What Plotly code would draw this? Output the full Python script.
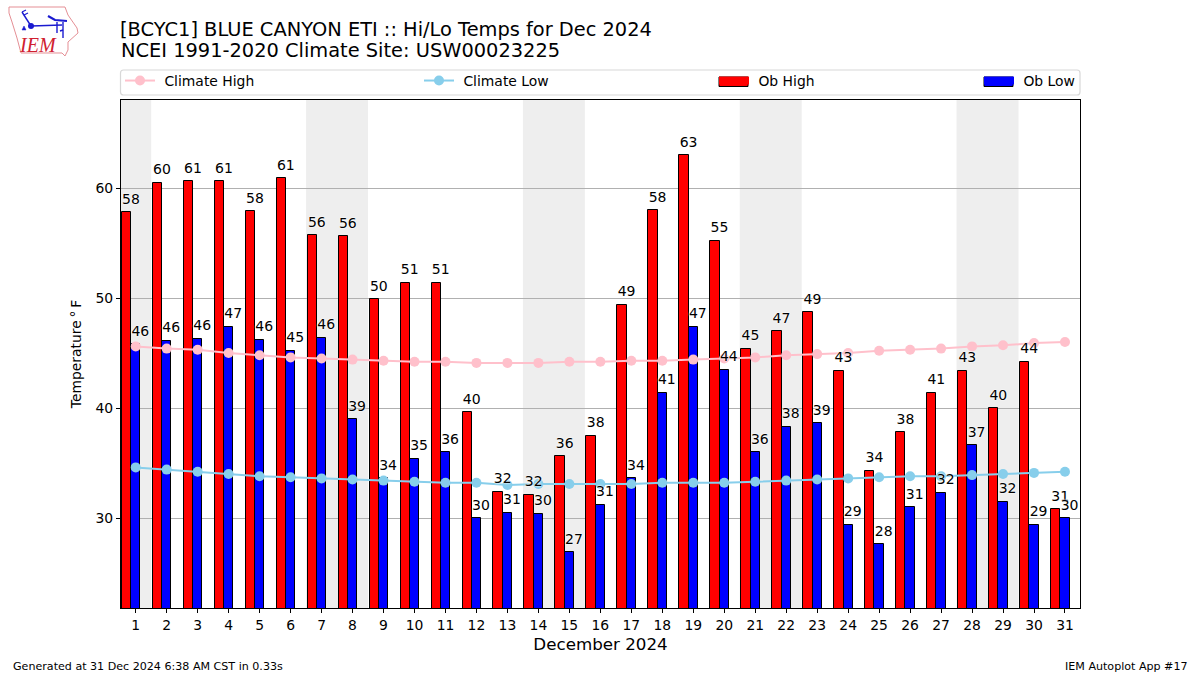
import plotly.graph_objects as go

days = list(range(1, 32))
ob_high = [57.8, 60.5, 60.6, 60.6, 57.9, 60.9, 55.7, 55.6, 49.9, 51.4, 51.4, 39.6, 32.4, 32.1, 35.6, 37.5,
           49.4, 58.0, 63.0, 55.2, 45.4, 47.0, 48.7, 43.4, 34.3, 37.8, 41.4, 43.4, 40.0, 44.2, 30.8]
ob_low = [45.8, 46.1, 46.3, 47.4, 46.2, 45.2, 46.4, 39.0, 33.6, 35.4, 36.0, 30.0, 30.5, 30.4, 26.9, 31.2,
          33.6, 41.4, 47.4, 43.5, 36.0, 38.3, 38.6, 29.4, 27.6, 31.0, 32.3, 36.6, 31.5, 29.4, 30.0]
high_labels = [58, 60, 61, 61, 58, 61, 56, 56, 50, 51, 51, 40, 32, 32, 36, 38,
               49, 58, 63, 55, 45, 47, 49, 43, 34, 38, 41, 43, 40, 44, 31]
low_labels = [46, 46, 46, 47, 46, 45, 46, 39, 34, 35, 36, 30, 31, 30, 27, 31,
              34, 41, 47, 44, 36, 38, 39, 29, 28, 31, 32, 37, 32, 29, 30]
climate_high = [45.6, 45.4, 45.3, 45.0, 44.8, 44.6, 44.5, 44.4, 44.3, 44.2, 44.2, 44.1, 44.1, 44.1, 44.2, 44.2,
                44.3, 44.3, 44.4, 44.5, 44.6, 44.8, 44.9, 45.0, 45.2, 45.3, 45.4, 45.6, 45.7, 45.9, 46.0]
climate_low = [34.6, 34.4, 34.2, 34.0, 33.8, 33.7, 33.6, 33.5, 33.4, 33.3, 33.2, 33.2, 33.0, 33.1, 33.1, 33.1,
               33.1, 33.2, 33.2, 33.2, 33.3, 33.4, 33.5, 33.6, 33.7, 33.8, 33.8, 33.9, 34.0, 34.1, 34.2]
weekend_spans = [(0.5, 1.5), (6.5, 8.5), (13.5, 15.5), (20.5, 22.5), (27.5, 29.5)]
y_ticks = [30, 40, 50, 60]

FONT = "DejaVu Sans"
L, R, T, B = 121, 1080, 100, 608
LABEL_LIFT = 0.45


def px(x):
    return (x - L) / (R - L)


def py(y):
    return (B - y) / (B - T)


def path(points, close=False):
    s = "M " + " L ".join(f"{px(a):.5f},{py(b):.5f}" for a, b in points)
    return s + (" Z" if close else "")


fig = go.Figure()
fig.add_bar(x=days, y=ob_high, width=0.3, offset=-0.45, name="Ob High bars", marker=dict(color="red", line=dict(color="black", width=1)), showlegend=False)
fig.add_bar(x=days, y=ob_low, width=0.3, offset=-0.15, name="Ob Low bars", marker=dict(color="blue", line=dict(color="black", width=1)), showlegend=False)
fig.add_scatter(x=days, y=climate_high, mode="lines+markers", name="\u00a0Climate High", line=dict(color="pink", width=2), marker=dict(color="pink", size=10), legend="legend")
fig.add_scatter(x=days, y=climate_low, mode="lines+markers", name="\u00a0Climate Low", line=dict(color="skyblue", width=2), marker=dict(color="skyblue", size=10), legend="legend2")
# legend-only entries: a thick line gives the wide, flat swatch of the reference
fig.add_scatter(x=[None], y=[None], mode="lines", name="\u00a0Ob High", line=dict(color="red", width=8), legend="legend3")
fig.add_scatter(x=[None], y=[None], mode="lines", name="\u00a0Ob Low", line=dict(color="blue", width=8), legend="legend4")
label_font = dict(family=FONT, size=14, color="black", shadow="0px 0px 2px white, 0px 0px 2px white")
fig.add_scatter(x=[d - 0.44 for d in days], y=[v + LABEL_LIFT for v in ob_high], mode="text", text=[str(v) for v in high_labels], textposition="top right", textfont=label_font, showlegend=False, hoverinfo="skip", cliponaxis=False)
fig.add_scatter(x=[d - 0.14 for d in days], y=[v + LABEL_LIFT for v in ob_low], mode="text", text=[str(v) for v in low_labels], textposition="top right", textfont=label_font, showlegend=False, hoverinfo="skip", cliponaxis=False)

shapes = [dict(type="rect", xref="x", yref="paper", x0=a, x1=b, y0=0, y1=1, fillcolor="#eeeeee", line=dict(width=0), layer="below") for a, b in weekend_spans]


def rounded(x0, y0, x1, y1, r):
    X, Y = px, py
    return (f"M {X(x0+r):.5f},{Y(y0):.5f} L {X(x1-r):.5f},{Y(y0):.5f} Q {X(x1):.5f},{Y(y0):.5f} {X(x1):.5f},{Y(y0+r):.5f} "
            f"L {X(x1):.5f},{Y(y1-r):.5f} Q {X(x1):.5f},{Y(y1):.5f} {X(x1-r):.5f},{Y(y1):.5f} "
            f"L {X(x0+r):.5f},{Y(y1):.5f} Q {X(x0):.5f},{Y(y1):.5f} {X(x0):.5f},{Y(y1-r):.5f} "
            f"L {X(x0):.5f},{Y(y0+r):.5f} Q {X(x0):.5f},{Y(y0):.5f} {X(x0+r):.5f},{Y(y0):.5f} Z")


shapes.append(dict(type="path", xref="paper", yref="paper", path=rounded(120.5, 70, 1080, 95, 3), line=dict(color="#d8d8d8", width=1.2), fillcolor="white", layer="below"))
for x0, col in ((719, "red"), (984, "blue")):
    shapes.append(dict(type="rect", xref="paper", yref="paper", x0=px(x0), x1=px(x0 + 29), y0=py(86.5), y1=py(77), line=dict(color="black", width=1), fillcolor=col, layer="above"))
# logo
outline = [(9, 7), (65, 7), (68, 15), (77, 28), (78, 33), (68, 42), (68, 50), (65, 56), (62, 53), (21, 53), (17, 38), (12, 22), (9, 13)]
shapes.append(dict(type="path", xref="paper", yref="paper", path=path(outline, True), line=dict(color="#e58f95", width=1)))
for seg, w in (([(31, 26), (62, 25)], 1.6), ([(31, 26), (22, 12)], 1.4), ([(22, 12), (26, 10)], 1.2), ([(24, 15), (28, 13)], 1.2),
               ([(48, 16), (55, 20), (67, 21)], 2.2), ([(57, 22), (57, 33)], 1.4), ([(63, 22), (63, 38)], 1.4), ([(60, 31), (63, 30)], 1.4)):
    shapes.append(dict(type="path", xref="paper", yref="paper", path=path(seg), line=dict(color="#1a1ad0", width=w)))
shapes.append(dict(type="circle", xref="paper", yref="paper", x0=px(28), x1=px(34), y0=py(29), y1=py(23), fillcolor="#1a1ad0", line=dict(width=0)))
shapes.append(dict(type="path", xref="paper", yref="paper", path=path([(22, 30), (24, 26), (26, 30)], True), fillcolor="#1a1ad0", line=dict(color="#1a1ad0", width=0.5)))


def note(x, y, text, size, anchor="left", **kw):
    return dict(xref="paper", yref="paper", x=px(x), y=py(y), text=text, showarrow=False, xanchor=anchor, yanchor="middle", align=anchor, font=dict(family=kw.get("family", FONT), size=size, color=kw.get("color", "black")))


annotations = [
    note(118.5, 50.5, "NCEI 1991-2020 Climate Site: USW00023225", 19.4),
    note(10.5, 666, "Generated at 31 Dec 2024 6:38 AM CST in 0.33s", 11.1),
    note(1189.5, 666, "IEM Autoplot App #17", 11.1, anchor="right"),
    note(38, 45, "<i>IEM</i>", 20, anchor="center", family="Liberation Serif", color="#d02030"),
]


def leg(x):
    return dict(x=px(x), y=py(81), xanchor="left", yanchor="middle", bgcolor="rgba(0,0,0,0)", borderwidth=0, font=dict(family=FONT, size=13.9, color="black"), itemwidth=30, tracegroupgap=0)


fig.update_layout(
    width=1200, height=675, autosize=False,
    margin=dict(l=L, r=1200 - R, t=T, b=675 - B, pad=0),
    paper_bgcolor="white", plot_bgcolor="white",
    barmode="overlay", bargap=0,
    title=dict(text="[BCYC1] BLUE CANYON ETI :: Hi/Lo Temps for Dec 2024", xref="container", x=120 / 1200, xanchor="left", yref="container", y=1 - 29 / 675, yanchor="middle", font=dict(family=FONT, size=19.4, color="black")),
    font=dict(family=FONT, size=13.9, color="black"),
    xaxis=dict(range=[0.525, 31.485], tickmode="array", tickvals=days, ticktext=[str(d) for d in days], ticks="outside", ticklen=4, tickcolor="black", showline=True, mirror=True, linecolor="black", linewidth=1, showgrid=False, zeroline=False, title=dict(text="December 2024", font=dict(family=FONT, size=16.7), standoff=6), tickfont=dict(family=FONT, size=13.9)),
    yaxis=dict(range=[21.82, 68], tickmode="array", tickvals=y_ticks, ticks="outside", ticklen=4, tickcolor="black", showline=True, mirror=True, linecolor="black", linewidth=1, showgrid=True, gridcolor="#b0b0b0", gridwidth=1, zeroline=False, title=dict(text="Temperature\u2009°\u2009F", font=dict(family=FONT, size=13.9), standoff=10), tickfont=dict(family=FONT, size=13.9)),
    shapes=shapes, annotations=annotations,
    legend=leg(120), legend2=leg(419), legend3=leg(714), legend4=leg(979),
)
fig.write_html("out.html", config=dict(displayModeBar=False), post_script="document.body.style.margin='0';")
